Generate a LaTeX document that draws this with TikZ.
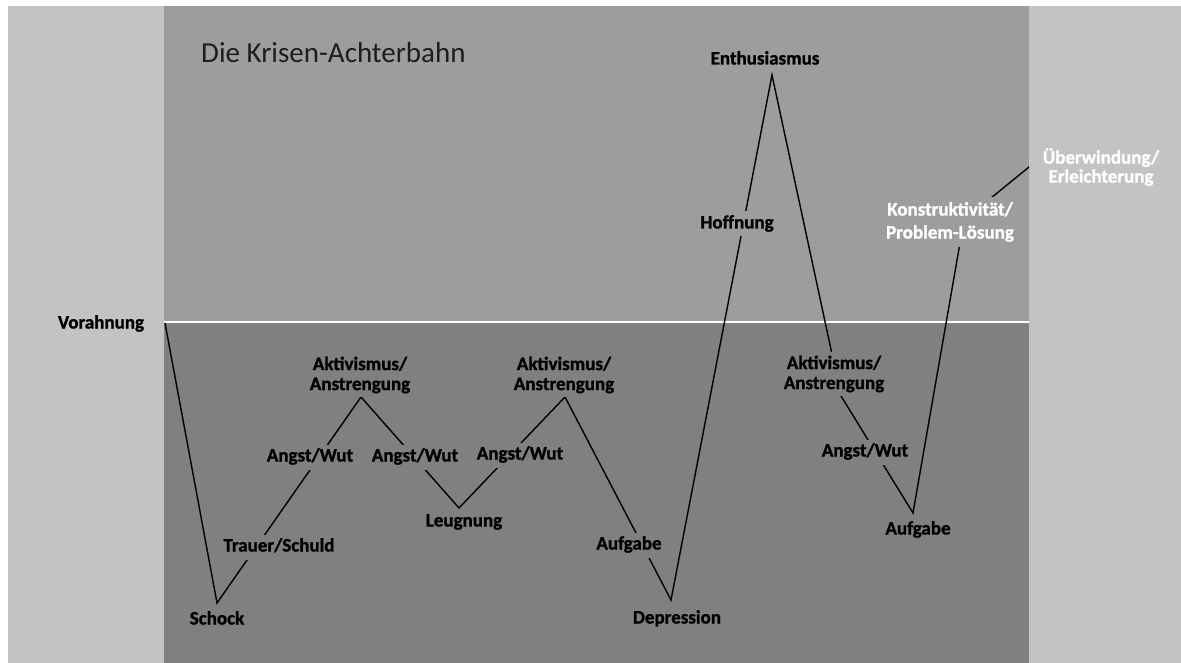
\documentclass[tikz,border=0pt]{standalone}
\usepackage{fontspec}
\setmainfont{Carlito}
\newfontfamily\labfont{Carlito}[BoldFeatures={FakeBold=1.2}]
\definecolor{outerg}{HTML}{C3C3C3}
\definecolor{upperg}{HTML}{9D9D9D}
\definecolor{lowerg}{HTML}{808080}
\definecolor{titlec}{HTML}{1E1E1E}
\begin{document}
\begin{tikzpicture}[x=1pt,y=-1pt,
  lab/.style={font=\labfont\fontsize{19}{20}\selectfont\bfseries, align=center, inner xsep=3pt, inner ysep=4pt, text height=13pt, text depth=4pt},
  lowlab/.style={lab, fill=lowerg},
  uplab/.style={lab, fill=upperg},
  mlab/.style={font=\labfont\fontsize{19}{20}\selectfont\bfseries, align=center, inner xsep=3pt, inner ysep=4pt},
  curve/.style={line width=1.4pt, black, line join=miter}]
\useasboundingbox (0,0) rectangle (1181,663);
\fill[white] (0,0) rectangle (1181,663);
\fill[outerg] (8,6) rectangle (1181,663);
\fill[upperg] (164,6) rectangle (1029,322);
\fill[lowerg] (164,322) rectangle (1029,663);
\draw[white, line width=2.5pt] (164,322) -- (1029,322);

\coordinate (p0) at (165,323);
\coordinate (p1) at (217,603);
\coordinate (p2) at (361,397);
\coordinate (p3) at (459,508);
\coordinate (p4) at (565,397);
\coordinate (p5) at (671,600);
\coordinate (p6) at (772,75);
\coordinate (p6b) at (841,396);
\coordinate (p7) at (913,513);
\coordinate (p7b) at (964,220);
\coordinate (p8) at (1029,167);

\draw[curve] (p0) -- (p1) -- (p2) -- (p3) -- (p4) -- (p5) -- (p6) -- (p6b) -- (p7) -- (p7b) -- (p8);

\node[anchor=base west, font=\fontsize{29}{30}\selectfont, text=titlec, inner sep=0pt] (title) at (201,63) {Die Krisen-Achterbahn};

\node[lab] (vor) at (101,324) {Vorahnung};
\node[lowlab] (schock) at (217,620) {Schock};
\node[lowlab] (trauer) at (279,547) {Trauer/Schuld};
\node[lowlab] (angst1) at (310,457) {Angst/Wut};
\node[mlab, fill=lowerg] (akt1) at (360,375) {Aktivismus/\\Anstrengung};
\node[lowlab] (angst2) at (415,457) {Angst/Wut};
\node[lowlab] (leug) at (464,522) {Leugnung};
\node[lowlab] (angst3) at (520,455) {Angst/Wut};
\node[mlab, fill=lowerg] (akt2) at (564,375) {Aktivismus/\\Anstrengung};
\node[lowlab] (aufg1) at (629,545) {Aufgabe};
\node[lowlab] (depr) at (677,619) {Depression};
\node[uplab] (hoff) at (737,224) {Hoffnung};
\node[lab] (enth) at (765,60) {Enthusiasmus};
\node[mlab, fill=lowerg] (akt3) at (834,374) {Aktivismus/\\Anstrengung};
\node[lowlab] (angst4) at (865,452) {Angst/Wut};
\node[lowlab] (aufg2) at (918,530) {Aufgabe};
\node[mlab, fill=upperg, text=white, font=\labfont\fontsize{19}{23}\selectfont\bfseries, inner ysep=5pt] (konst) at (950,222) {Konstruktivität/\\Problem-Lösung};
\node[mlab, text=white, font=\labfont\fontsize{19}{19}\selectfont\bfseries] (uber) at (1101,167) {Überwindung/\\Erleichterung};
\end{tikzpicture}
\end{document}
